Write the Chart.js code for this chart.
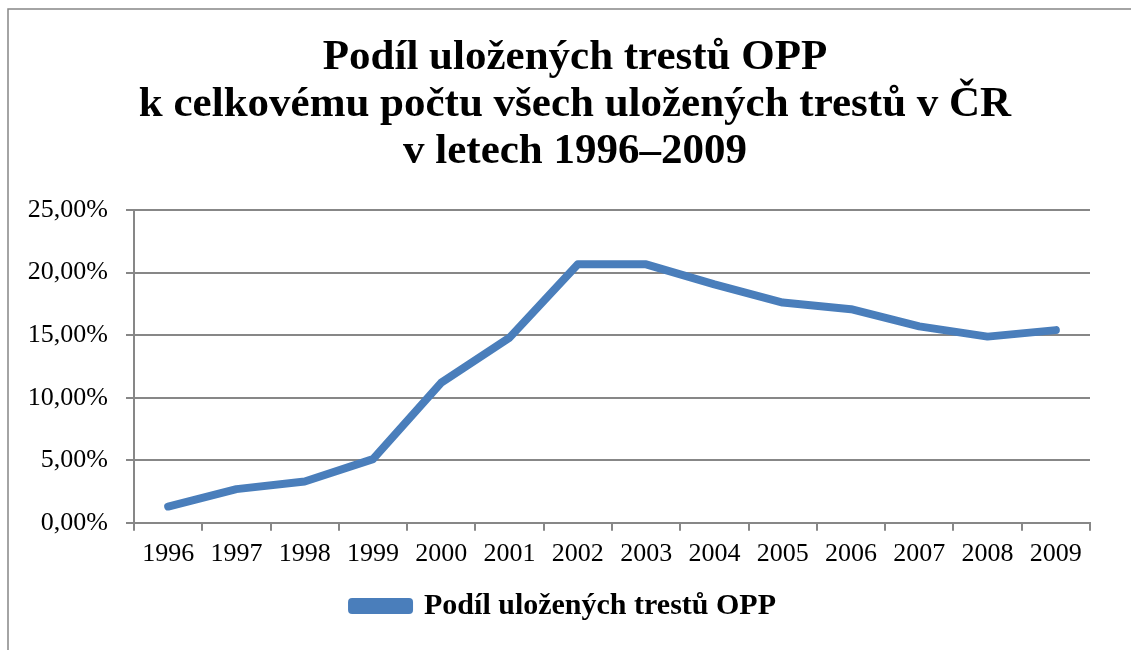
<!DOCTYPE html>
<html>
<head>
<meta charset="utf-8">
<script src="https://cdn.jsdelivr.net/npm/chart.js@4.4.1/dist/chart.umd.min.js"></script>
<style>
  html, body { margin: 0; padding: 0; background: #fff; }
  #wrap { width: 1131px; height: 650px; position: relative; }
</style>
</head>
<body>
<div id="wrap"><canvas id="chart"></canvas></div>
<script>
// data (percent)
const years = ['1996','1997','1998','1999','2000','2001','2002','2003','2004','2005','2006','2007','2008','2009'];
const shareOPP = [1.30, 2.69, 3.30, 5.09, 11.2, 14.8, 20.66, 20.66, 19.06, 17.6, 17.07, 15.7, 14.88, 15.4];
const seriesName = 'Podíl uložených trestů OPP';
const titleLines = ['Podíl uložených trestů OPP', 'k celkovému počtu všech uložených trestů v ČR', 'v letech 1996–2009'];

const serif = "'Liberation Serif', 'Times New Roman', serif";
const gray = '#878787';

// outer frame of the chart object (top and left edge visible)
const framePlugin = {
  id: 'frame',
  afterLayout(chart) {
    // title and legend sit centred on the whole frame, not on the padded box
    if (chart.titleBlock) chart.titleBlock.left += 40;
    if (chart.legend) chart.legend.left += 18;
  },
  beforeDraw(chart) {
    const c = chart.ctx;
    c.save();
    c.fillStyle = '#fff';
    c.fillRect(0, 0, chart.width, chart.height);
    c.strokeStyle = gray;
    c.lineWidth = 1.5;
    c.beginPath();
    c.moveTo(8, chart.height);
    c.lineTo(8, 9);
    c.lineTo(chart.width, 9);
    c.stroke();
    c.restore();
  }
};

new Chart(document.getElementById('chart'), {
  type: 'line',
  data: {
    labels: years,
    datasets: [{
      label: seriesName,
      data: shareOPP,
      borderColor: '#4a7ebb',
      backgroundColor: '#4a7ebb',
      borderWidth: 8,
      borderCapStyle: 'round',
      borderJoinStyle: 'round',
      pointRadius: 0,
      tension: 0
    }]
  },
  options: {
    responsive: true,
    maintainAspectRatio: false,
    animation: false,
    layout: { padding: { left: 20, right: 41, top: 20, bottom: 19 } },
    plugins: {
      title: {
        display: true,
        text: titleLines,
        color: '#000',
        font: { family: serif, size: 43, weight: 'bold', lineHeight: 1.093 },
        padding: { top: 14, bottom: 35 }
      },
      legend: {
        position: 'bottom',
        labels: {
          color: '#000',
          font: { family: serif, size: 30, weight: 'bold' },
          boxWidth: 57,
          boxHeight: 8,
          padding: 13
        }
      },
      tooltip: { enabled: false }
    },
    scales: {
      x: {
        offset: true,
        grid: {
          offset: true,
          drawOnChartArea: false,
          drawTicks: true,
          tickLength: 8,
          color: gray,
          lineWidth: 2
        },
        border: { color: gray, width: 2 },
        ticks: {
          color: '#000',
          font: { family: serif, size: 26 },
          maxRotation: 0,
          autoSkip: false,
          padding: 8
        }
      },
      y: {
        min: 0,
        max: 25,
        afterFit(s) { s.width = 114; },
        grid: {
          color: gray,
          lineWidth: 2,
          tickLength: 8
        },
        border: { color: gray, width: 2 },
        ticks: {
          stepSize: 5,
          color: '#000',
          font: { family: serif, size: 26 },
          padding: 18,
          callback: v => v.toFixed(2).replace('.', ',') + '%'
        }
      }
    }
  },
  plugins: [framePlugin]
});
</script>
</body>
</html>
